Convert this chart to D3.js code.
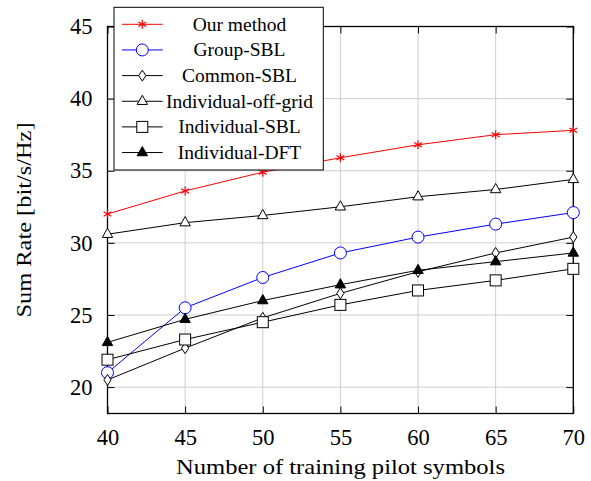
<!DOCTYPE html>
<html><head><meta charset="utf-8">
<script src="https://cdn.jsdelivr.net/npm/d3@7"></script>
<style>body{margin:0;background:#fff}svg{display:block}text{font-family:"Liberation Serif","Times New Roman",serif;fill:#000}</style>
</head><body><div id="chart"></div>
<script>
const xTicks = [40, 45, 50, 55, 60, 65, 70];
const yTicks = [20, 25, 30, 35, 40, 45];
const seriesNames = ["Our method", "Group-SBL", "Common-SBL", "Individual-off-grid", "Individual-SBL", "Individual-DFT"];
const ourMethod = [32.0, 33.6, 34.9, 35.9, 36.8, 37.5, 37.8];
const groupSBL = [21.0, 25.5, 27.6, 29.3, 30.4, 31.3, 32.1];
const commonSBL = [20.5, 22.7, 24.8, 26.5, 28.0, 29.3, 30.4];
const indivOffGrid = [30.6, 31.4, 31.9, 32.5, 33.2, 33.7, 34.4];
const indivSBL = [21.9, 23.3, 24.5, 25.7, 26.7, 27.4, 28.2];
const indivDFT = [23.1, 24.7, 26.0, 27.1, 28.1, 28.7, 29.3];

const W = 591, H = 481;
const L = 107.5, R = 573.3, T = 26.5, B = 413.5;
const svg = d3.select("#chart").append("svg").attr("width", W).attr("height", H);
const x = d3.scaleLinear().domain([40, 70]).range([L, R]);
const y = d3.scaleLinear().domain([18.17, 45]).range([B, T]);

// grid
const g = svg.append("g");
g.selectAll(".gx").data(xTicks).join("line").attr("x1", d => x(d)).attr("x2", d => x(d)).attr("y1", T).attr("y2", B).attr("stroke", "#cfcfcf").attr("stroke-width", 1);
g.selectAll(".gy").data(yTicks).join("line").attr("y1", d => y(d)).attr("y2", d => y(d)).attr("x1", L).attr("x2", R).attr("stroke", "#cfcfcf").attr("stroke-width", 1);

// axes with inward ticks
const tl = 7;
const ax = d3.axisBottom(x).tickValues(xTicks).tickSizeInner(-tl).tickSizeOuter(0).tickPadding(16);
const axT = d3.axisTop(x).tickValues(xTicks).tickSizeInner(-tl).tickSizeOuter(0).tickFormat("");
const ay = d3.axisLeft(y).tickValues(yTicks).tickSizeInner(-tl).tickSizeOuter(0).tickPadding(15);
const ayR = d3.axisRight(y).tickValues(yTicks).tickSizeInner(-tl).tickSizeOuter(0).tickFormat("");
function styleAxis(sel){ sel.select(".domain").remove(); sel.selectAll("line").attr("stroke","#000").attr("stroke-width",1); sel.selectAll("text").attr("font-size","22.5px").attr("font-family","Liberation Serif"); }
svg.append("g").attr("transform", `translate(0,${B})`).call(ax).call(styleAxis);
svg.append("g").attr("transform", `translate(0,${T})`).call(axT).call(styleAxis);
svg.append("g").attr("transform", `translate(${L},0)`).call(ay).call(styleAxis);
svg.append("g").attr("transform", `translate(${R},0)`).call(ayR).call(styleAxis);
svg.append("rect").attr("x", L).attr("y", T).attr("width", R - L).attr("height", B - T).attr("fill", "none").attr("stroke", "#000").attr("stroke-width", 1.3);

// markers
function drawMarker(sel, type, color) {
  if (type === "asterisk") {
    const r = 4.5;
    [90, 30, 150].forEach(a => {
      const rad = a * Math.PI / 180;
      sel.append("line").attr("x1", -r * Math.cos(rad)).attr("y1", -r * Math.sin(rad)).attr("x2", r * Math.cos(rad)).attr("y2", r * Math.sin(rad)).attr("stroke", color).attr("stroke-width", 1.2);
    });
  } else if (type === "circle") {
    sel.append("circle").attr("r", 6).attr("fill", "#fff").attr("stroke", color).attr("stroke-width", 1);
  } else if (type === "diamond") {
    sel.append("path").attr("d", "M0,-5.5L3.6,0L0,5.5L-3.6,0Z").attr("fill", "#fff").attr("stroke", color).attr("stroke-width", 1);
  } else if (type === "triangle") {
    sel.append("path").attr("d", "M0,-6L5.2,3.2L-5.2,3.2Z").attr("fill", "#fff").attr("stroke", color).attr("stroke-width", 1);
  } else if (type === "square") {
    sel.append("rect").attr("x", -5.5).attr("y", -5.5).attr("width", 11).attr("height", 11).attr("fill", "#fff").attr("stroke", color).attr("stroke-width", 1);
  } else if (type === "filledTriangle") {
    sel.append("path").attr("d", "M0,-6L5.2,3.2L-5.2,3.2Z").attr("fill", color).attr("stroke", color).attr("stroke-width", 1);
  }
}

const series = [
  {name: seriesNames[0], values: ourMethod, color: "#ff0000", marker: "asterisk"},
  {name: seriesNames[1], values: groupSBL, color: "#0000ff", marker: "circle"},
  {name: seriesNames[2], values: commonSBL, color: "#000000", marker: "diamond"},
  {name: seriesNames[3], values: indivOffGrid, color: "#000000", marker: "triangle"},
  {name: seriesNames[4], values: indivSBL, color: "#000000", marker: "square"},
  {name: seriesNames[5], values: indivDFT, color: "#000000", marker: "filledTriangle"}
];
const line = d3.line().x((d, i) => x(xTicks[i])).y(d => y(d));
const plot = svg.append("g");
series.forEach(s => {
  plot.append("path").attr("d", line(s.values)).attr("fill", "none").attr("stroke", s.color).attr("stroke-width", 1);
  s.values.forEach((v, i) => {
    const m = plot.append("g").attr("transform", `translate(${x(xTicks[i])},${y(v)})`);
    drawMarker(m, s.marker, s.color);
  });
});

// legend
const lg = svg.append("g");
lg.append("rect").attr("x", 114).attr("y", 7.3).attr("width", 209.3).attr("height", 162.7).attr("fill", "#fff").attr("stroke", "#000").attr("stroke-width", 1);
series.forEach((s, i) => {
  const cy = 24.3 + i * 25.65;
  lg.append("line").attr("x1", 122).attr("x2", 162.7).attr("y1", cy).attr("y2", cy).attr("stroke", s.color).attr("stroke-width", 1);
  const m = lg.append("g").attr("transform", `translate(142.3,${cy})`);
  drawMarker(m, s.marker, s.color);
  lg.append("text").attr("x", 239.5).attr("y", cy + 6.5).attr("text-anchor", "middle").attr("font-size", "19.5px").text(s.name);
});

// axis labels
svg.append("text").attr("x", 340.5).attr("y", 473.5).attr("text-anchor", "middle").attr("font-size", "21.5px").attr("textLength", 329).attr("lengthAdjust", "spacingAndGlyphs").text("Number of training pilot symbols");
svg.append("text").attr("transform", "translate(31,220) rotate(-90)").attr("text-anchor", "middle").attr("font-size", "21.5px").attr("textLength", 195).attr("lengthAdjust", "spacingAndGlyphs").text("Sum Rate [bit/s/Hz]");
</script></body></html>
